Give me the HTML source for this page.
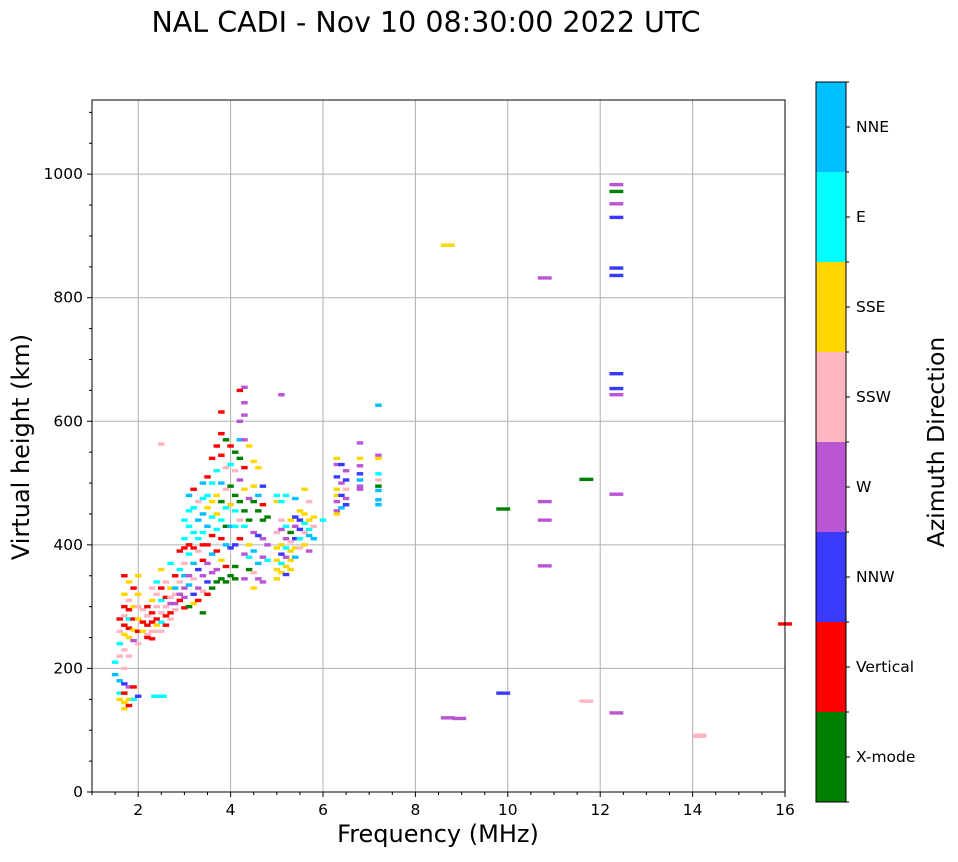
<!DOCTYPE html>
<html><head><meta charset="utf-8"><style>
body{margin:0;background:#fff;width:958px;height:857px;overflow:hidden}
svg{font-family:"DejaVu Sans","Liberation Sans",sans-serif}
</style></head><body>
<svg id="chart" width="958" height="857" viewBox="0 0 958 857" xmlns="http://www.w3.org/2000/svg">
<text x="426" y="32" font-size="28.5" text-anchor="middle">NAL CADI - Nov 10 08:30:00 2022 UTC</text>
<g id="grid"></g>
<g id="marks"></g>
<g id="axes"></g>
<text x="438" y="842" font-size="24" text-anchor="middle">Frequency (MHz)</text>
<text transform="translate(29,447) rotate(-90)" font-size="24" text-anchor="middle">Virtual height (km)</text>
<g id="cbar"></g>
<text transform="translate(944,442) rotate(-90)" font-size="23.5" text-anchor="middle">Azimuth Direction</text>
</svg>
<script>
const directions=["X-mode","Vertical","NNW","W","SSW","SSE","E","NNE"];
const dirColors=["#008000","#ff0000","#3a3aff","#ba55d3","#ffb6c1","#ffd700","#00ffff","#00bfff"];
const xTicks=[2,4,6,8,10,12,14,16];
const yTicks=[0,200,400,600,800,1000];
// [frequency MHz, virtual height km, direction index]
const echoes=[
[8.7,885,5],[10.8,832,3],[12.35,983,3],[12.35,972,0],[12.35,952,3],[12.35,930,2],[12.35,848,2],[12.35,836,2],[12.35,677,2],[12.35,653,2],[12.35,643,3],[12.35,482,3],[12.35,128,3],
[9.9,458,0],[9.9,160,2],[10.8,470,3],[10.8,440,3],[10.8,366,3],[11.7,506,0],[8.7,120,3],[8.95,119,3],[11.7,147,4],[14.15,92,4],[14.15,90,4],[16,272,1],
[5.1,643,3],[7.2,626,7],[6.8,565,3],[2.5,563,4],[2.35,155,6],[2.45,155,6],[2.55,155,6],
[1.5,210,6],[1.5,190,7],
[1.6,280,1],[1.6,260,4],[1.6,240,6],[1.6,220,4],[1.6,180,7],[1.6,160,6],[1.6,150,5],
[1.7,350,1],[1.7,320,5],[1.7,300,1],[1.7,285,4],[1.7,270,1],[1.7,255,5],[1.7,230,4],[1.7,200,4],[1.7,175,2],[1.7,160,1],[1.7,145,5],[1.7,135,5],
[1.8,340,5],[1.8,310,4],[1.8,295,1],[1.8,280,6],[1.8,265,1],[1.8,250,5],[1.8,220,4],[1.8,170,3],[1.8,150,5],[1.8,140,1],
[1.9,330,1],[1.9,300,5],[1.9,280,1],[1.9,262,5],[1.9,245,3],[1.9,170,1],[1.9,150,6],
[2.0,350,5],[2.0,320,5],[2.0,300,4],[2.0,280,5],[2.0,260,1],[2.0,240,4],[2.0,155,2],
[2.1,295,4],[2.1,275,1],[2.1,260,5],
[2.2,300,1],[2.2,285,4],[2.2,270,1],[2.2,255,4],[2.2,250,1],
[2.3,330,4],[2.3,310,5],[2.3,290,1],[2.3,275,1],[2.3,260,4],[2.3,248,1],
[2.4,340,6],[2.4,320,4],[2.4,300,4],[2.4,280,1],[2.4,270,5],[2.4,260,4],
[2.5,360,5],[2.5,330,1],[2.5,310,6],[2.5,290,4],[2.5,275,6],[2.5,260,4],
[2.6,340,4],[2.6,315,1],[2.6,300,4],[2.6,285,1],[2.6,270,1],
[2.7,370,6],[2.7,330,5],[2.7,315,4],[2.7,305,3],[2.7,290,1],[2.7,280,4],
[2.8,350,1],[2.8,330,7],[2.8,320,4],[2.8,305,3],[2.8,295,4],
[2.9,390,1],[2.9,360,6],[2.9,340,4],[2.9,320,3],[2.9,310,1],
[3.0,440,6],[3.0,410,6],[3.0,395,1],[3.0,370,4],[3.0,350,7],[3.0,330,3],[3.0,315,3],[3.0,298,1],
[3.1,480,7],[3.1,455,6],[3.1,430,6],[3.1,400,1],[3.1,385,6],[3.1,350,3],[3.1,335,7],[3.1,300,0],
[3.2,490,1],[3.2,460,6],[3.2,420,6],[3.2,395,1],[3.2,370,7],[3.2,345,4],[3.2,320,2],[3.2,305,5],
[3.3,470,4],[3.3,440,7],[3.3,410,6],[3.3,390,4],[3.3,360,2],[3.3,330,3],[3.3,310,1],
[3.4,500,7],[3.4,475,6],[3.4,450,7],[3.4,420,6],[3.4,400,1],[3.4,375,1],[3.4,350,3],[3.4,325,4],[3.4,290,0],
[3.5,510,1],[3.5,480,6],[3.5,460,5],[3.5,430,7],[3.5,400,1],[3.5,370,3],[3.5,340,2],[3.5,320,1],
[3.6,540,1],[3.6,500,6],[3.6,470,5],[3.6,445,6],[3.6,415,1],[3.6,385,7],[3.6,355,3],[3.6,330,0],
[3.7,560,1],[3.7,520,6],[3.7,480,5],[3.7,450,5],[3.7,425,6],[3.7,390,1],[3.7,360,3],[3.7,340,0],
[3.8,615,1],[3.8,580,1],[3.8,545,1],[3.8,500,7],[3.8,470,0],[3.8,440,6],[3.8,410,1],[3.8,375,5],[3.8,345,0],
[3.9,570,0],[3.9,525,4],[3.9,490,4],[3.9,460,6],[3.9,430,0],[3.9,400,7],[3.9,365,1],[3.9,340,0],
[4.0,560,1],[4.0,530,6],[4.0,495,0],[4.0,465,5],[4.0,430,7],[4.0,395,2],[4.0,350,0],
[4.1,550,0],[4.1,520,4],[4.1,480,0],[4.1,455,6],[4.1,430,6],[4.1,400,2],[4.1,365,0],[4.1,345,0],
[4.2,650,1],[4.2,600,3],[4.2,570,7],[4.2,540,0],[4.2,505,3],[4.2,470,0],[4.2,440,4],[4.2,410,1],
[4.3,655,3],[4.3,630,3],[4.3,610,3],[4.3,570,3],[4.3,525,1],[4.3,490,5],[4.3,455,0],[4.3,430,6],[4.3,385,3],[4.3,345,3],
[4.4,560,5],[4.4,475,3],[4.4,440,0],[4.4,400,5],[4.4,380,6],[4.4,360,0],
[4.5,535,5],[4.5,495,5],[4.5,470,0],[4.5,420,3],[4.5,390,7],[4.5,355,4],[4.5,330,5],
[4.6,525,5],[4.6,480,7],[4.6,455,0],[4.6,415,2],[4.6,370,7],[4.6,345,3],
[4.7,495,2],[4.7,465,1],[4.7,440,0],[4.7,410,3],[4.7,380,3],[4.7,340,3],
[4.8,445,0],[4.8,400,3],[4.8,375,6],
[5.0,480,6],[5.0,470,5],[5.0,420,4],[5.0,395,5],[5.0,375,5],[5.0,360,5],[5.0,345,5],
[5.1,470,6],[5.1,440,4],[5.1,425,3],[5.1,400,5],[5.1,385,2],[5.1,370,6],[5.1,355,5],
[5.2,480,6],[5.2,430,6],[5.2,410,3],[5.2,395,6],[5.2,380,3],[5.2,365,5],[5.2,352,2],
[5.3,440,5],[5.3,420,0],[5.3,405,4],[5.3,390,5],[5.3,375,5],[5.3,360,5],
[5.4,475,7],[5.4,445,2],[5.4,430,3],[5.4,410,2],[5.4,395,5],[5.4,380,7],
[5.5,455,5],[5.5,440,2],[5.5,425,2],[5.5,410,6],[5.5,395,4],
[5.6,490,5],[5.6,450,5],[5.6,435,6],[5.6,420,4],[5.6,400,5],
[5.7,470,4],[5.7,440,5],[5.7,425,6],[5.7,415,7],[5.7,390,3],
[5.8,445,5],[5.8,430,4],[5.8,410,7],[6.0,440,6],
[6.3,540,5],[6.3,530,3],[6.3,510,2],[6.3,490,5],[6.3,480,5],[6.3,470,3],[6.3,455,3],[6.3,450,5],
[6.4,530,2],[6.4,500,3],[6.4,480,2],[6.4,460,7],
[6.5,520,3],[6.5,505,2],[6.5,490,4],[6.5,475,3],[6.5,465,2],
[6.8,540,5],[6.8,528,3],[6.8,515,2],[6.8,505,7],[6.8,495,3],[6.8,490,3],
[7.2,545,3],[7.2,540,5],[7.2,515,6],[7.2,505,4],[7.2,495,0],[7.2,488,7],[7.2,473,7],[7.2,465,7]
];
const NS="http://www.w3.org/2000/svg";
const L=92,R=785,T=100,B=792,fMin=1,fMax=16,hMin=0,hMax=1120;
const xs=f=>L+(f-fMin)/(fMax-fMin)*(R-L);
const ys=h=>B-(h-hMin)/(hMax-hMin)*(B-T);
function mk(tag,attrs,parent){const e=document.createElementNS(NS,tag);for(const k in attrs)e.setAttribute(k,attrs[k]);parent.appendChild(e);return e;}
const grid=document.getElementById('grid'),axes=document.getElementById('axes'),marks=document.getElementById('marks'),cbar=document.getElementById('cbar');
xTicks.forEach(t=>{const l=mk('line',{x1:xs(t),x2:xs(t),y1:T,y2:B,stroke:'#b0b0b0','stroke-width':1},grid);

});
yTicks.forEach(t=>{const l=mk('line',{x1:L,x2:R,y1:ys(t),y2:ys(t),stroke:'#b0b0b0','stroke-width':1},grid);

});
echoes.forEach(d=>{const hw=d[0]>=8?0.15:0.07;const x0=xs(d[0]-hw),x1=xs(d[0]+hw);
const r=mk('rect',{x:x0,y:ys(d[1])-1.7,width:x1-x0,height:3.4,fill:dirColors[d[2]]},marks);

});
const fr=mk('rect',{x:L,y:T,width:R-L,height:B-T,fill:'none',stroke:'#000','stroke-width':1},axes);


for(let f=1;f<=16.001;f+=0.5){const maj=xTicks.includes(f);mk('line',{x1:xs(f),x2:xs(f),y1:B,y2:B+(maj?5:3),stroke:'#000'},axes);}
xTicks.forEach(t=>{const tx=mk('text',{x:xs(t),y:B+23,'font-size':15.5,'text-anchor':'middle'},axes);tx.textContent=t;

});
for(let h=0;h<=1100;h+=50){const maj=yTicks.includes(h);mk('line',{x1:L,x2:L-(maj?5:3),y1:ys(h),y2:ys(h),stroke:'#000'},axes);}
yTicks.forEach(t=>{const tx=mk('text',{x:L-9,y:ys(t)+5,'font-size':15.5,'text-anchor':'end'},axes);tx.textContent=t;

});
const cT=82,cB=802,cL=816,cW=30,seg=(cB-cT)/directions.length;
directions.forEach((d,i)=>{const y0=cB-(i+1)*seg;
const r=mk('rect',{x:cL,y:y0,width:cW,height:seg,fill:dirColors[i]},cbar);


mk('line',{x1:cL+cW,x2:cL+cW+4,y1:y0+seg/2,y2:y0+seg/2,stroke:'#000'},cbar);
const tx=mk('text',{x:cL+cW+10,y:y0+seg/2+5,'font-size':15.5},cbar);tx.textContent=d;

});
for(let i=0;i<=directions.length;i++)mk('line',{x1:cL+cW,x2:cL+cW+3,y1:cT+i*seg,y2:cT+i*seg,stroke:'#000'},cbar);
mk('rect',{x:cL,y:cT,width:cW,height:cB-cT,fill:'none',stroke:'#000'},cbar);
</script>
</body></html>
